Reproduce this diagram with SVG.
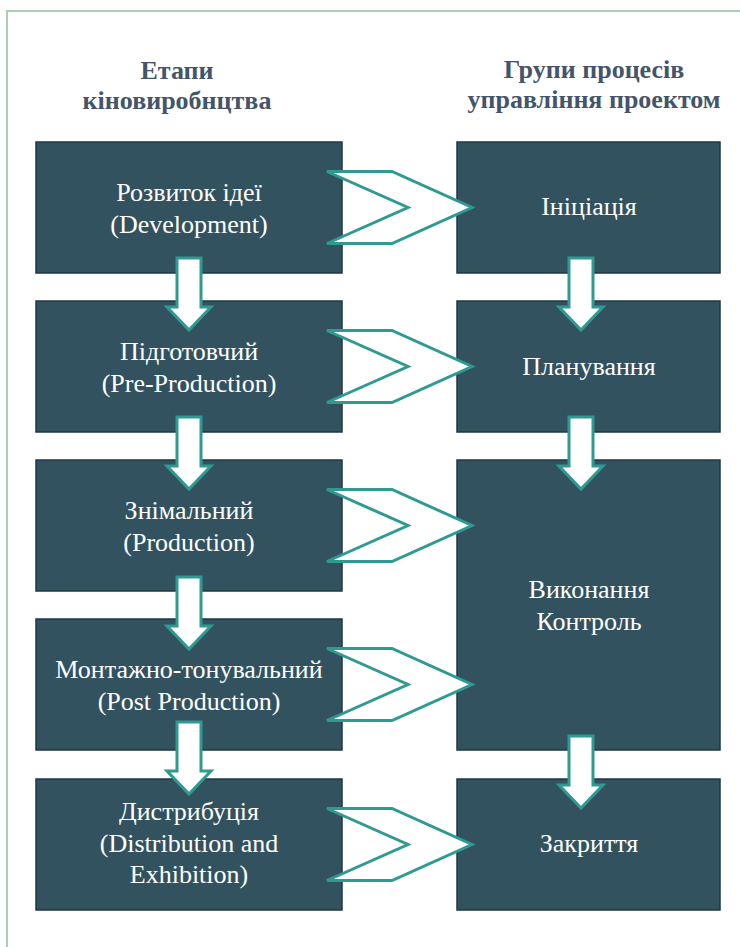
<svg xmlns="http://www.w3.org/2000/svg" width="740" height="947" viewBox="0 0 740 947">
<style>
.box{fill:#33525F;stroke:#1E3847;stroke-width:1.5}
.t{font-family:'Liberation Serif','Times New Roman',serif;font-size:26px;fill:#FFFFFF;text-anchor:middle}
.h{font-family:'Liberation Serif','Times New Roman',serif;font-size:26px;font-weight:bold;fill:#44546A;text-anchor:middle}
.c{fill:#FFFFFF;stroke:#2F9A92;stroke-width:3;stroke-linejoin:miter}
</style>
<defs>
<polygon id="chev" points="0,-36 65,-36 145,0 65,36 0,36 81,0"/>
<polygon id="darr" points="-12,0 12,0 12,49 22,49 0,72 -22,49 -12,49"/>
</defs>
<rect width="740" height="947" fill="#FFFFFF"/>
<path d="M7,947 L7,11 L740,11" fill="none" stroke="#A9CDB6" stroke-width="2"/>
<g id="headers">
<text class="h" x="177" y="79">Етапи</text>
<text class="h" x="177" y="109">кіновиробнцтва</text>
<text class="h" x="594" y="78">Групи процесів</text>
<text class="h" x="594" y="108">управління проектом</text>
</g>
<g id="n1"><rect class="box" x="36" y="142" width="306" height="131"/>
<text class="t" x="189" y="201">Розвиток ідеї</text><text class="t" x="189" y="233">(Development)</text></g>
<g id="n2"><rect class="box" x="36" y="301" width="306" height="131"/>
<text class="t" x="189" y="360">Підготовчий</text><text class="t" x="189" y="392">(Pre-Production)</text></g>
<g id="n3"><rect class="box" x="36" y="460" width="306" height="131"/>
<text class="t" x="189" y="519">Знімальний</text><text class="t" x="189" y="551">(Production)</text></g>
<g id="n4"><rect class="box" x="36" y="619" width="306" height="131"/>
<text class="t" x="189" y="678">Монтажно-тонувальний</text><text class="t" x="189" y="710">(Post Production)</text></g>
<g id="n5"><rect class="box" x="36" y="779" width="306" height="131"/>
<text class="t" x="189" y="820">Дистрибуція</text><text class="t" x="189" y="852">(Distribution and</text><text class="t" x="189" y="883">Exhibition)</text></g>
<g id="r1"><rect class="box" x="457" y="142" width="263" height="131"/>
<text class="t" x="589" y="215">Ініціація</text></g>
<g id="r2"><rect class="box" x="457" y="301" width="263" height="131"/>
<text class="t" x="589" y="375">Планування</text></g>
<g id="r3"><rect class="box" x="457" y="460" width="263" height="290"/>
<text class="t" x="589" y="598">Виконання</text><text class="t" x="589" y="630">Контроль</text></g>
<g id="r4"><rect class="box" x="457" y="779" width="263" height="131"/>
<text class="t" x="589" y="852">Закриття</text></g>
<g id="connectors">
<use href="#chev" class="c" x="327" y="207.5"/>
<use href="#chev" class="c" x="327" y="366.5"/>
<use href="#chev" class="c" x="327" y="525.5"/>
<use href="#chev" class="c" x="327" y="684.5"/>
<use href="#chev" class="c" x="327" y="844.5"/>
<use href="#darr" class="c" x="189" y="258"/>
<use href="#darr" class="c" x="189" y="417"/>
<use href="#darr" class="c" x="189" y="577"/>
<use href="#darr" class="c" x="189" y="722"/>
<use href="#darr" class="c" x="581" y="258"/>
<use href="#darr" class="c" x="581" y="417"/>
<use href="#darr" class="c" x="581" y="736"/>
</g>
</svg>
